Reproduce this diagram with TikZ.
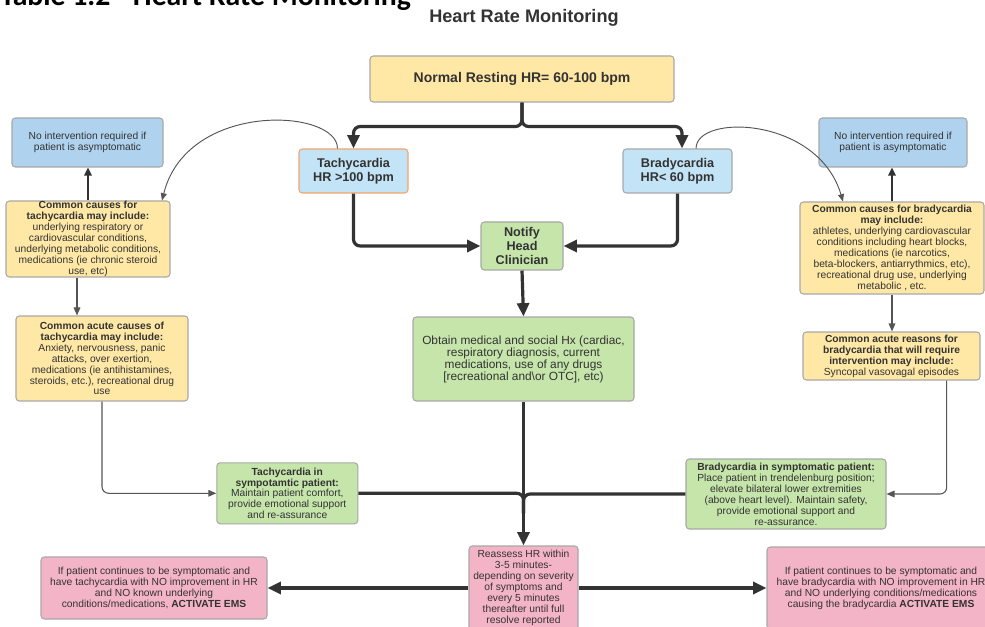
\documentclass[tikz,border=0pt]{standalone}
\usepackage{fontspec}
\setmainfont{Liberation Sans}
\newfontfamily\tablefont{Carlito}
\usetikzlibrary{arrows.meta}
\definecolor{ink}{HTML}{333333}
\definecolor{edge}{HTML}{A8A8A8}
\definecolor{wire}{HTML}{555555}
\definecolor{yel}{HTML}{FFE8A5}
\definecolor{sky}{HTML}{C3E3F6}
\definecolor{blu}{HTML}{AFD3EE}
\definecolor{grn}{HTML}{C6E5AB}
\definecolor{pnk}{HTML}{F4B4C8}
\definecolor{orng}{HTML}{F4A56A}
\begin{document}
\begin{tikzpicture}[x=0.75pt,y=-0.75pt,
  box/.style={draw=edge, line width=0.8pt, rounded corners=2.5pt, inner sep=0pt,
    text=ink, align=center, font=\fontsize{7.7}{8.2}\selectfont},
  wh/.style 2 args={minimum width=#1*0.75pt, minimum height=#2*0.75pt},
  bigtxt/.style={font=\bfseries\fontsize{9.5}{10.5}\selectfont},
  flow/.style={draw=ink, line width=2.4pt, rounded corners=5pt,
    -{Triangle[length=10pt,width=9pt]}},
  merge/.style={draw=ink, line width=2.4pt, rounded corners=5pt},
  upflow/.style={draw=ink, line width=1.6pt, -{Triangle[length=6pt,width=5.5pt]}},
  thinflow/.style={draw=wire, line width=0.8pt, rounded corners=5pt,
    -{Triangle[length=6pt,width=5pt]}},
  curve/.style={draw=wire, line width=0.7pt, -{Triangle[length=5.5pt,width=4.5pt]}},
]
\useasboundingbox (0,0) rectangle (985,627);
\clip (0,0) rectangle (985,627);
\fill[white] (0,0) rectangle (985,627);

% headings
\node[anchor=base west, inner sep=0pt, text=black,
  font=\tablefont\bfseries\fontsize{22.3}{24}\selectfont] (tabhead) at (0,6)
  {Table 1.2 - Heart Rate Monitoring};
\node[inner sep=0pt, text=ink, font=\bfseries\fontsize{13.6}{15}\selectfont]
  (title) at (524,18) {Heart Rate Monitoring};

% central column
\node[box, fill=yel, wh={304}{46}, font=\bfseries\fontsize{10.5}{12}\selectfont]
  (normal) at (522,79) {Normal Resting HR= 60-100 bpm};
\node[box, fill=sky, draw=orng, wh={109}{44}, bigtxt] (tachy) at (353.5,171)
  {Tachycardia\\HR >100 bpm};
\node[box, fill=sky, wh={109}{44}, bigtxt] (brady) at (677.5,171)
  {Bradycardia\\HR< 60 bpm};
\node[box, fill=grn, wh={82}{48}, bigtxt] (notify) at (522,246)
  {Notify\\Head\\Clinician};
\node[box, fill=grn, wh={221}{84}, font=\fontsize{8.9}{9}\selectfont] (obtain) at (523.5,359)
  {Obtain medical and social Hx (cardiac,\\respiratory diagnosis, current\\
   medications, use of any drugs\\{[}recreational and\textbackslash or OTC{]}, etc)};
\node[box, fill=pnk, wh={109}{100},
  label={[box, draw=none, anchor=north, yshift=-3pt]north:{Reassess HR within\\3-5 minutes-\\
   depending on severity\\of symptoms and\\every 5 minutes\\thereafter until full\\resolve reported}}]
  (reassess) at (523.5,596) {};

% tachycardia side
\node[box, fill=blu, wh={151}{49}] (noL) at (87.5,142.5)
  {No intervention required if\\patient is asymptomatic};
\node[box, fill=yel, wh={164}{76}] (causeL) at (88,239)
  {\textbf{Common causes for}\\\textbf{tachycardia may include:}\\underlying respiratory or\\
   cardiovascular conditions,\\underlying metabolic conditions,\\
   medications (ie chronic steroid\\use, etc)};
\node[box, fill=yel, wh={172}{85}] (acuteL) at (102,358.5)
  {\textbf{Common acute causes of}\\\textbf{tachycardia may include:}\\
   Anxiety, nervousness, panic\\attacks, over exertion,\\
   medications (ie antihistamines,\\steroids, etc.), recreational drug\\use};
\node[box, fill=grn, wh={141}{61}] (symL) at (287.3,493.3)
  {\textbf{Tachycardia in}\\\textbf{sympotamtic patient:}\\Maintain patient comfort,\\
   provide emotional support\\and re-assurance};
\node[box, fill=pnk, wh={226}{62}] (emsL) at (154,588)
  {If patient continues to be symptomatic and\\have tachycardia with NO improvement in HR\\
   and NO known underlying\\conditions/medications, \textbf{ACTIVATE EMS}};

% bradycardia side
\node[box, fill=blu, wh={148}{49}] (noR) at (893,142.5)
  {No intervention required if\\patient is asymptomatic};
\node[box, fill=yel, wh={184}{92}] (causeR) at (892,248)
  {\textbf{Common causes for bradycardia}\\\textbf{may include:}\\
   athletes, underlying cardiovascular\\conditions including heart blocks,\\
   medications (ie narcotics,\\beta-blockers, antiarrythmics, etc),\\
   recreational drug use, underlying\\metabolic , etc.};
\node[box, fill=yel, wh={177}{48}] (acuteR) at (891.5,356)
  {\textbf{Common acute reasons for}\\\textbf{bradycardia that will require}\\
   \textbf{intervention may include:}\\Syncopal vasovagal episodes};
\node[box, fill=grn, wh={200}{70}] (symR) at (786,494)
  {\textbf{Bradycardia in symptomatic patient:}\\Place patient in trendelenburg position;\\
   elevate bilateral lower extremities\\(above heart level). Maintain safety,\\
   provide emotional support and\\re-assurance.};
\node[box, fill=pnk, wh={228}{82}] (emsR) at (881,588)
  {If patient continues to be symptomatic and\\have bradycardia with NO improvement in HR\\
   and NO underlying conditions/medications\\causing the bradycardia \textbf{ACTIVATE EMS}};

% main thick flow
\draw[flow] (normal.south) -- ++(0,24) -| (tachy.north);
\draw[flow] (normal.south) -- ++(0,24) -| ([xshift=3.4pt]brady.north);
\draw[flow] (tachy.south) |- (notify.west);
\draw[flow] (brady.south) |- (notify.east);
\draw[flow] (notify.south) -- (obtain.north);
\coordinate (mergept) at ([yshift=24pt]reassess.north);
\draw[merge] (symL.east) -| (mergept);
\draw[merge] (symR.west) -| (mergept);
\draw[flow] (obtain.south) -- (reassess.north);
\draw[flow] (reassess.west |- emsL.east) -- (emsL.east);
\draw[flow] (reassess.east |- emsR.west) -- (emsR.west);

% side branches
\draw[upflow] (causeL.north) -- (causeL.north |- noL.south);
\draw[upflow] (causeR.north) -- (causeR.north |- noR.south);
\coordinate (cl) at ([xshift=-8.25pt]causeL.south);
\draw[thinflow] (cl) -- (cl |- acuteL.north);
\draw[thinflow] (causeR.south) -- (causeR.south |- acuteR.north);
\draw[thinflow] (acuteL.south) |- (symL.west);
\coordinate (ar) at ([xshift=41.4pt]acuteR.south);
\draw[thinflow] (ar) |- (symR.east);

% curved links to the cause boxes
\coordinate (tq) at ([xshift=-12pt]tachy.north);
\coordinate (cq) at ([xshift=55.5pt]causeL.north);
\draw[curve] (tq) .. controls +(0,-40) and +(25,-100) .. (cq);
\coordinate (bq) at ([xshift=13.9pt]brady.north);
\coordinate (rq) at ([xshift=-36.75pt]causeR.north);
\draw[curve] (bq) .. controls +(0,-35) and +(-25,-85) .. (rq);
\end{tikzpicture}
\end{document}
